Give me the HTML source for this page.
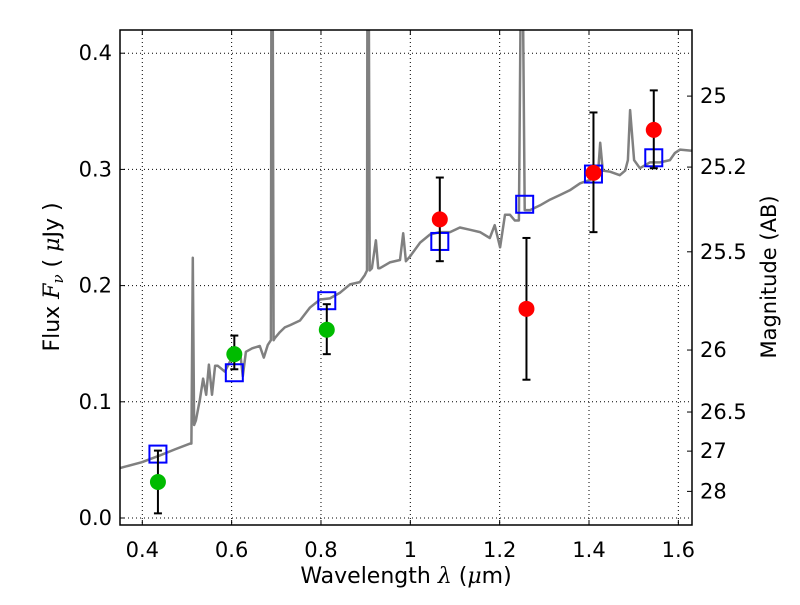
<!DOCTYPE html>
<html><head><meta charset="utf-8"><style>
body{margin:0;background:#fff;width:800px;height:600px;overflow:hidden}
svg text{font-family:"DejaVu Sans","Liberation Sans",sans-serif}
</style></head><body>
<svg id="chart" width="800" height="600" xmlns="http://www.w3.org/2000/svg"></svg>
<script>
const specLam=[0.350,0.399,0.440,0.473,0.507,0.510,0.513,0.516,0.520,0.529,0.536,0.543,0.549,0.556,0.563,0.569,0.585,0.598,0.610,0.619,0.625,0.632,0.646,0.663,0.672,0.681,0.688,0.689,0.692,0.694,0.697,0.708,0.719,0.731,0.753,0.775,0.798,0.820,0.843,0.865,0.887,0.898,0.903,0.904,0.907,0.909,0.914,0.923,0.928,0.932,0.954,0.977,0.984,0.990,0.999,1.022,1.044,1.066,1.089,1.111,1.134,1.156,1.178,1.189,1.201,1.212,1.223,1.234,1.243,1.247,1.252,1.256,1.268,1.290,1.313,1.335,1.357,1.380,1.402,1.420,1.425,1.431,1.447,1.469,1.481,1.487,1.492,1.501,1.514,1.536,1.559,1.581,1.592,1.604,1.630];
const specFlux=[.043,.048,.054,.059,.064,.064,.224,.080,.084,.102,.120,.106,.132,.106,.131,.131,.126,.136,.146,.143,.122,.143,.146,.148,.138,.149,.153,.45,.45,.153,.155,.160,.164,.166,.170,.181,.188,.189,.194,.201,.203,.209,.213,.45,.45,.213,.215,.239,.215,.215,.220,.222,.245,.221,.225,.237,.244,.246,.246,.250,.248,.246,.241,.252,.233,.261,.261,.256,.256,.45,.45,.265,.265,.269,.274,.278,.282,.288,.291,.295,.323,.299,.298,.295,.299,.308,.351,.308,.301,.306,.306,.308,.314,.317,.316];
const greenLam=[0.435,0.606,0.813];
const greenFlux=[0.031,0.141,0.162];
const greenLo=[0.004,0.128,0.141];
const greenHi=[0.058,0.157,0.184];
const redLam=[1.066,1.260,1.410,1.545];
const redFlux=[0.257,0.180,0.297,0.334];
const redLo=[0.221,0.119,0.246,0.301];
const redHi=[0.293,0.241,0.349,0.368];
const modelLam=[0.435,0.606,0.813,1.066,1.256,1.410,1.545];
const modelFlux=[0.055,0.125,0.187,0.238,0.270,0.296,0.310];
const xTicks=[0.4,0.6,0.8,1.0,1.2,1.4,1.6];
const xTickLabels=["0.4","0.6","0.8","1","1.2","1.4","1.6"];
const yTicks=[0,0.1,0.2,0.3,0.4];
const yTickLabels=["0.0","0.1","0.2","0.3","0.4"];
const magTicks=[25,25.2,25.5,26,26.5,27,28];
const magLabels=["25","25.2","25.5","26","26.5","27","28"];

const L=120,R=692,T=30,B=525;
const X=v=>142.3+(v-0.4)*446.7;
const Y=v=>518-v*1162;
const NS="http://www.w3.org/2000/svg";
const svg=document.getElementById('chart');
function mk(tag,attrs,parent){const e=document.createElementNS(NS,tag);for(const k in attrs)e.setAttribute(k,attrs[k]);(parent||svg).appendChild(e);return e;}

const defs=mk('defs',{});
const cp=mk('clipPath',{id:'clip'},defs);
mk('rect',{x:L,y:T,width:R-L,height:B-T},cp);

xTicks.forEach((t,i)=>{
  const g=mk('line',{x1:X(t),x2:X(t),y1:T,y2:B,stroke:'#000','stroke-width':1,'stroke-dasharray':'1,3'});
  
  
  mk('line',{x1:X(t),x2:X(t),y1:B,y2:B-5,stroke:'#000'});
  mk('line',{x1:X(t),x2:X(t),y1:T,y2:T+5,stroke:'#000'});
  const tx=mk('text',{x:X(t),y:557,'font-size':21,'text-anchor':'middle'});
  tx.textContent=xTickLabels[i];
  
  
});
yTicks.forEach((t,i)=>{
  const g=mk('line',{x1:L,x2:R,y1:Y(t),y2:Y(t),stroke:'#000','stroke-width':1,'stroke-dasharray':'1,3'});
  
  
  mk('line',{x1:L,x2:L+5,y1:Y(t),y2:Y(t),stroke:'#000'});
  const tx=mk('text',{x:112,y:Y(t)+7,'font-size':21,'text-anchor':'end'});
  tx.textContent=yTickLabels[i];
  
  
});
magTicks.forEach((m,i)=>{
  const f=Math.pow(10,(23.9-m)/2.5);
  const y=Y(f);
  mk('line',{x1:R,x2:R-5,y1:y,y2:y,stroke:'#000'});
  const tx=mk('text',{x:700,y:y+7,'font-size':21});
  tx.textContent=magLabels[i];
  
  
});

const gp=mk('g',{'clip-path':'url(#clip)'});
let d='';specLam.forEach((l,i)=>{d+=(i?'L':'M')+X(l).toFixed(1)+','+Y(specFlux[i]).toFixed(1);});
const sp=mk('path',{d:d,fill:'none',stroke:'#808080','stroke-width':2.5,'stroke-linejoin':'round'},gp);



function errbar(x,lo,hi){
  mk('line',{x1:X(x),x2:X(x),y1:Y(lo),y2:Y(hi),stroke:'#000','stroke-width':2},gp);
  mk('line',{x1:X(x)-4,x2:X(x)+4,y1:Y(lo),y2:Y(lo),stroke:'#000','stroke-width':2},gp);
  mk('line',{x1:X(x)-4,x2:X(x)+4,y1:Y(hi),y2:Y(hi),stroke:'#000','stroke-width':2},gp);
}
modelLam.forEach((l,i)=>{
  const r=mk('rect',{x:X(l)-8.5,y:Y(modelFlux[i])-8.5,width:17,height:17,fill:'none',stroke:'#0000ff','stroke-width':2},gp);
  
  
});
greenLam.forEach((l,i)=>{
  errbar(l,greenLo[i],greenHi[i]);
  const c=mk('circle',{cx:X(l),cy:Y(greenFlux[i]),r:8,fill:'#00bb00'},gp);
  
  
});
redLam.forEach((l,i)=>{
  errbar(l,redLo[i],redHi[i]);
  const c=mk('circle',{cx:X(l),cy:Y(redFlux[i]),r:8,fill:'#ff0000'},gp);
  
  
});

const fr=mk('rect',{x:L,y:T,width:R-L,height:B-T,fill:'none',stroke:'#000','stroke-width':1.5});



const xl=mk('text',{x:406,y:583,'font-size':22,'text-anchor':'middle'});
xl.innerHTML='Wavelength  <tspan font-style="italic" font-family="DejaVu Serif, serif">λ</tspan> (<tspan font-style="italic" font-family="DejaVu Serif, serif">μ</tspan>m)';


const yl=mk('text',{x:0,y:0,'font-size':22,'text-anchor':'middle','xml:space':'preserve',transform:'translate(59,277) rotate(-90)'});
yl.innerHTML='Flux  <tspan font-style="italic" font-family="DejaVu Serif, serif">F</tspan><tspan font-style="italic" font-size="15" dy="4" font-family="DejaVu Serif, serif">ν</tspan><tspan dy="-4">   (  </tspan><tspan font-style="italic" font-family="DejaVu Serif, serif">μ</tspan>Jy )';


const rl=mk('text',{x:0,y:0,'font-size':21,'text-anchor':'middle',transform:'translate(776,277) rotate(-90)'});
rl.textContent='Magnitude (AB)';


</script>
</body></html>
